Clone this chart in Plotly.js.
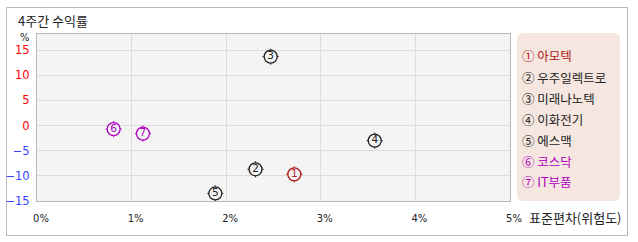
<!DOCTYPE html>
<html><head><meta charset="utf-8">
<script src="https://cdn.plot.ly/plotly-3.0.1.min.js"></script>
<style>body{margin:0;background:#fff}#c{width:638px;height:242px}</style>
</head><body><div id="c"></div>
<script>
const names = ['아모텍','우주일렉트로','미래나노텍','이화전기','에스맥','코스닥','IT부품'];
const nums = ['1','2','3','4','5','6','7'];
const circled = ['①','②','③','④','⑤','⑥','⑦'];
const riskPct = [2.72, 2.31, 2.47, 3.57, 1.885, 0.81, 1.12];
const returnPct = [-9.7, -8.7, 13.7, -3.0, -13.5, -0.7, -1.6];
const colors = ['#b01818','#222222','#222222','#222222','#222222','#b000c0','#b000c0'];
const xTicks = [0,1,2,3,4,5];
const yTicks = [15,10,5,0,-5,-10,-15];

const W=638,H=242,L=37,R=510,T=34,B=201;
const px = v => (v-L)/(R-L);
const py = v => (B-v)/(B-T);
const font = "Noto Sans CJK KR, Noto Sans, sans-serif";

const traces = [
 {x:riskPct,y:returnPct,mode:'markers',hoverinfo:'skip',
  marker:{symbol:'cross-thin-open',size:11.5,color:colors,line:{color:colors,width:1}}},
 {x:riskPct,y:returnPct,mode:'markers+text',text:nums,textposition:'middle center',
  textfont:{family:'DejaVu Sans, sans-serif',size:10.5,color:colors},hoverinfo:'skip',
  marker:{symbol:'circle',size:13,color:'#f4f4f4',line:{color:colors,width:1.3}}}
];

const ann = [];
ann.push({xref:'paper',yref:'paper',x:px(16),y:py(20),xanchor:'left',yanchor:'middle',showarrow:false,
  text:'4주간 수익률',font:{family:font,size:13,color:'#222'}});
ann.push({xref:'paper',yref:'paper',x:px(25),y:py(37),xanchor:'center',yanchor:'middle',showarrow:false,
  text:'%',font:{family:'DejaVu Sans',size:10,color:'#222'}});
ann.push({xref:'paper',yref:'paper',x:px(527),y:py(217),xanchor:'left',yanchor:'middle',showarrow:false,
  text:'표준편차(위험도)',font:{family:font,size:13,color:'#222'}});
const legY = [55,77,98,119,140,161,181];
names.forEach((n,i)=>{
  ann.push({xref:'paper',yref:'paper',x:px(520),y:py(legY[i]),xanchor:'left',yanchor:'middle',showarrow:false,
    text:circled[i]+' '+n,font:{family:font,size:12.5,color:colors[i]}});
});

const r=6, lx0=px(517), lx1=px(620), ly0=py(33), ly1=py(201);
const rx=r/(R-L), ry=r/(B-T);
const legPath = `M ${lx0+rx} ${ly0} L ${lx1-rx} ${ly0} Q ${lx1} ${ly0} ${lx1} ${ly0-ry} L ${lx1} ${ly1+ry} Q ${lx1} ${ly1} ${lx1-rx} ${ly1} L ${lx0+rx} ${ly1} Q ${lx0} ${ly1} ${lx0} ${ly1+ry} L ${lx0} ${ly0-ry} Q ${lx0} ${ly0} ${lx0+rx} ${ly0} Z`;

const layout = {
  width:W,height:H,margin:{l:L,r:W-R,t:T,b:H-B,pad:0},
  paper_bgcolor:'#fff',plot_bgcolor:'#f4f4f4',showlegend:false,
  xaxis:{range:[0,5],tickvals:xTicks,ticktext:xTicks.map(v=>v+'%'),showgrid:true,gridcolor:'#dcdcdc',
    zeroline:false,showline:true,linecolor:'#b8b8b8',mirror:true,ticks:'',ticklen:0,
    ticklabelstandoff:8,ticklabelshift:4,
    tickfont:{family:'DejaVu Sans',size:10,color:'#222'},fixedrange:true},
  yaxis:{range:[-15,18.2],tickvals:yTicks,
    ticktext:yTicks.map(v=>v>=0?`<span style="color:#ff0000">${v}</span>`:`<span style="color:#3344ff">−${-v}</span>`),
    showgrid:true,gridcolor:'#dcdcdc',zeroline:false,showline:true,linecolor:'#b8b8b8',mirror:true,
    ticks:'',ticklen:0,ticklabelstandoff:4,tickfont:{family:'DejaVu Sans',size:11.5},fixedrange:true},
  annotations:ann,
  shapes:[
    {type:'rect',xref:'paper',yref:'paper',x0:px(6.5),x1:px(627.5),y0:py(7.5),y1:py(235.5),
      line:{color:'#b8b8b8',width:1},fillcolor:'rgba(0,0,0,0)',layer:'below'},
    {type:'path',xref:'paper',yref:'paper',path:legPath,fillcolor:'#f5e7df',line:{width:0},layer:'below'}
  ]
};
Plotly.newPlot('c',traces,layout,{staticPlot:true,displayModeBar:false});
</script></body></html>
